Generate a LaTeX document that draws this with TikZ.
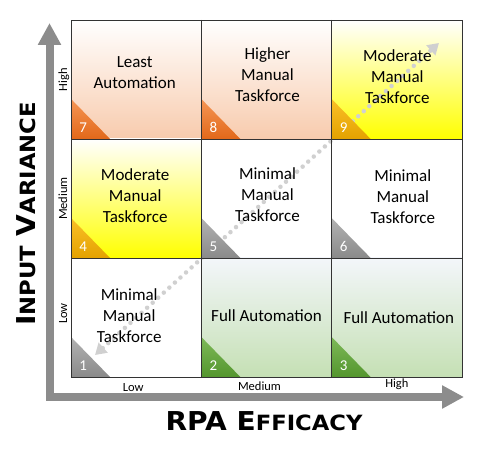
\documentclass[tikz,border=0pt]{standalone}
\usepackage{fontspec}
\setmainfont{Carlito}
\newfontfamily\titlefont{DejaVu Sans}
\usetikzlibrary{arrows.meta, positioning}
\definecolor{peach}{RGB}{248,203,173}
\definecolor{lemon}{RGB}{255,255,0}
\definecolor{mint}{RGB}{197,224,180}
\definecolor{icewhite}{RGB}{243,246,250}
\definecolor{orangetop}{RGB}{245,150,85}
\definecolor{orangebot}{RGB}{226,104,26}
\definecolor{ambertop}{RGB}{250,192,40}
\definecolor{amberbot}{RGB}{228,162,0}
\definecolor{leaftop}{RGB}{125,185,88}
\definecolor{leafbot}{RGB}{84,150,46}
\definecolor{slatetop}{RGB}{178,178,178}
\definecolor{slatebot}{RGB}{138,138,138}
\definecolor{axisgray}{RGB}{140,140,140}
\definecolor{dotgray}{RGB}{208,208,208}
\newcommand{\bigsmall}[2]{{\fontsize{26}{26}\selectfont #1}{\fontsize{21}{21}\selectfont #2}}

\begin{document}
\begin{tikzpicture}[x=1pt, y=1pt,
      cell/.style={minimum width=130.3pt, minimum height=119pt,
                   inner sep=0pt, outer sep=0pt, fill=white},
      peachcell/.style={cell, top color=white, bottom color=peach},
      lemoncell/.style={cell, top color=white, bottom color=lemon},
      mintcell/.style={cell, top color=icewhite, bottom color=mint},
      txt/.style={align=center, inner sep=0pt, font=\fontsize{17}{21}\selectfont},
      gridline/.style={draw=black!80, line width=0.9pt},
      orangetri/.style={top color=orangetop, bottom color=orangebot},
      ambertri/.style={top color=ambertop, bottom color=amberbot},
      leaftri/.style={top color=leaftop, bottom color=leafbot},
      slatetri/.style={top color=slatetop, bottom color=slatebot},
      num/.style={text=white, font=\fontsize{15}{15}\selectfont, inner sep=0pt, anchor=base west},
      lab/.style={font=\fontsize{12.5}{12.5}\selectfont, inner sep=0pt, anchor=base},
      title/.style={font=\titlefont\bfseries\fontsize{26}{26}\selectfont, inner sep=0pt},
      axis/.style={draw=axisgray, line width=8pt, line join=miter,
                   arrows={Triangle[length=22pt,width=22pt]-Triangle[length=22pt,width=22pt]}},
      dots/.style={draw=dotgray, line width=4.5pt, line cap=round, dash pattern=on 0pt off 7.5pt,
                   arrows={Triangle[length=11pt,width=13pt]-Triangle[length=11pt,width=13pt]}}
    ]
      \useasboundingbox (0,0) rectangle (487,452);

      % axes
      \coordinate (ytip) at (49.5,429);
      \coordinate (corner) at (49.5,55);
      \coordinate (xtip) at (464,55);
      \draw[axis] (ytip) -- (corner) -- (xtip);

      % cells
      \node[peachcell] (c7) at (136.2,372.5) {};
      \node[peachcell, right=0pt of c7] (c8) {};
      \node[lemoncell, right=0pt of c8] (c9) {};
      \node[lemoncell, below=0pt of c7] (c4) {};
      \node[cell, right=0pt of c4] (c5) {};
      \node[cell, right=0pt of c5] (c6) {};
      \node[cell, below=0pt of c4] (c1) {};
      \node[mintcell, right=0pt of c1] (c2) {};
      \node[mintcell, right=0pt of c2] (c3) {};

      % diagonal (under the corner marks)
      \coordinate (lo) at ([shift={(24,22)}]c1.south west);
      \coordinate (hi) at ([shift={(-23,-23)}]c9.north east);
      \draw[dots] (lo) -- (hi);

      % corner triangles
      \shade[orangetri] (c7.south west) -- ++(0,40) -- ++(39,-40) -- cycle;
      \shade[orangetri] (c8.south west) -- ++(0,40) -- ++(39,-40) -- cycle;
      \shade[ambertri] (c9.south west) -- ++(0,40) -- ++(39,-40) -- cycle;
      \shade[ambertri] (c4.south west) -- ++(0,40) -- ++(39,-40) -- cycle;
      \shade[slatetri] (c5.south west) -- ++(0,40) -- ++(39,-40) -- cycle;
      \shade[slatetri] (c6.south west) -- ++(0,40) -- ++(39,-40) -- cycle;
      \shade[slatetri] (c1.south west) -- ++(0,40) -- ++(39,-40) -- cycle;
      \shade[leaftri] (c2.south west) -- ++(0,40) -- ++(39,-40) -- cycle;
      \shade[leaftri] (c3.south west) -- ++(0,40) -- ++(39,-40) -- cycle;

      \node[num] (n7) at ([shift={(8,6)}]c7.south west) {7};
      \node[num] (n8) at ([shift={(8,6)}]c8.south west) {8};
      \node[num] (n9) at ([shift={(8,6)}]c9.south west) {9};
      \node[num] (n4) at ([shift={(8,6)}]c4.south west) {4};
      \node[num] (n5) at ([shift={(8,6)}]c5.south west) {5};
      \node[num] (n6) at ([shift={(8,6)}]c6.south west) {6};
      \node[num] (n1) at ([shift={(8,6)}]c1.south west) {1};
      \node[num] (n2) at ([shift={(8,6)}]c2.south west) {2};
      \node[num] (n3) at ([shift={(8,6)}]c3.south west) {3};

      % grid lines
      \draw[gridline] (c1.south west) rectangle (c9.north east);
      \draw[gridline] (c7.south west) -- (c9.south east);
      \draw[gridline] (c4.south west) -- (c6.south east);
      \draw[gridline] (c7.north east) -- (c1.south east);
      \draw[gridline] (c8.north east) -- (c2.south east);

      % cell texts
      \node[txt] (t7) at ([shift={(-1.5,6.5)}]c7.center) {Least\\Automation};
      \node[txt] (t8) at ([shift={(1,4.5)}]c8.center) {Higher\\Manual\\Taskforce};
      \node[txt] (t9) at ([shift={(0.5,3)}]c9.center) {Moderate\\Manual\\Taskforce};
      \node[txt] (t4) at ([shift={(-1,3)}]c4.center) {Moderate\\Manual\\Taskforce};
      \node[txt] (t5) at ([shift={(1,4)}]c5.center) {Minimal\\Manual\\Taskforce};
      \node[txt] (t6) at ([shift={(6,2)}]c6.center) {Minimal\\Manual\\Taskforce};
      \node[txt] (t1) at ([shift={(-7,2)}]c1.center) {Minimal\\Manual\\Taskforce};
      \node[txt] (t2) at ([shift={(0,2)}]c2.center) {Full Automation};
      \node[txt] (t3) at ([shift={(2,0)}]c3.center) {Full Automation};

      % level labels
      \node[lab, rotate=90] (rhigh) at ([xshift=-4pt]c7.west) {High};
      \node[lab, rotate=90] (rmed) at ([xshift=-4pt]c4.west) {Medium};
      \node[lab, rotate=90] (rlow) at ([xshift=-4pt,yshift=4pt]c1.west) {Low};
      \node[lab] (clow) at ([xshift=-3pt,yshift=-15pt]c1.south) {Low};
      \node[lab] (cmed) at ([xshift=-7pt,yshift=-14pt]c2.south) {Medium};
      \node[lab] (chigh) at ([yshift=-11pt]c3.south) {High};

      % axis titles
      \node[title, rotate=90] (ytitle) at (26,238)
        {\scalebox{1.08}[1]{\bigsmall{I}{NPUT} \bigsmall{V}{ARIANCE}}};
      \node[title] (xtitle) at (264,31)
        {\scalebox{1.08}[1]{\bigsmall{RPA}{} \bigsmall{E}{FFICACY}}};
    \end{tikzpicture}
\end{document}
